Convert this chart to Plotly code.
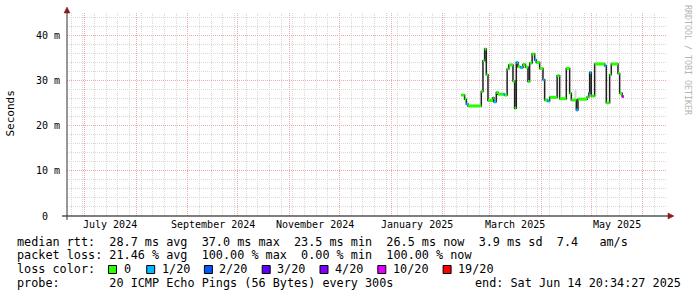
import plotly.graph_objects as go

# ---------------- data ----------------
x_start = "2024-06-20 10:00"
x_end = "2025-06-15 10:00"

step_dates = [
    "2025-02-12 00:00", "2025-02-14 00:00", "2025-02-15 00:00", "2025-02-16 00:00",
    "2025-02-24 00:00", "2025-02-25 00:00", "2025-02-26 00:00", "2025-02-27 00:00",
    "2025-02-28 00:00", "2025-03-03 00:00", "2025-03-03 12:00", "2025-03-05 00:00",
    "2025-03-06 00:00", "2025-03-09 00:00", "2025-03-10 00:00", "2025-03-11 12:00",
    "2025-03-12 12:00", "2025-03-15 00:00", "2025-03-16 00:00", "2025-03-17 00:00",
    "2025-03-18 00:00", "2025-03-19 12:00", "2025-03-21 00:00", "2025-03-22 12:00",
    "2025-03-24 00:00", "2025-03-25 00:00", "2025-03-26 12:00", "2025-03-28 00:00",
    "2025-03-29 00:00", "2025-03-31 00:00", "2025-04-02 00:00", "2025-04-03 00:00",
    "2025-04-04 12:00", "2025-04-06 00:00", "2025-04-10 12:00", "2025-04-12 00:00",
    "2025-04-16 00:00", "2025-04-18 00:00", "2025-04-19 00:00", "2025-04-22 00:00",
    "2025-04-23 00:00", "2025-04-28 12:00", "2025-04-29 12:00", "2025-04-30 00:00",
    "2025-05-01 00:00", "2025-05-03 00:00", "2025-05-09 00:00", "2025-05-10 00:00",
    "2025-05-12 00:00", "2025-05-13 00:00", "2025-05-17 00:00", "2025-05-18 00:00",
    "2025-05-19 12:00", "2025-05-20 12:00",
]
median_ms = [
    26.8, 25.9, 24.8, 24.4, 27.6, 34.4, 37.0, 31.3, 25.6, 26.2, 25.3, 27.4,
    27.0, 27.0, 26.8, 32.6, 33.5, 29.9, 23.9, 34.0, 33.1, 32.9, 33.6, 33.0,
    29.8, 33.9, 35.9, 34.6, 34.0, 32.7, 30.2, 25.7, 25.5, 26.3, 31.1, 26.0,
    32.7, 27.2, 25.7, 23.5, 25.9, 26.4, 27.2, 31.8, 26.6, 33.7, 33.3, 25.1,
    31.3, 33.7, 31.6, 27.2, 26.5,
]
loss_of_step = [
    "0", "0", "1/20", "0", "0", "0", "0", "0", "0", "0", "1/20", "0",
    "0", "1/20", "0", "0", "0", "0", "0", "1/20", "0", "1/20", "0", "0",
    "0", "0", "0", "1/20", "0", "0", "1/20", "0", "1/20", "0", "0", "0",
    "0", "0", "0", "1/20", "0", "0", "1/20", "1/20", "0", "0", "1/20", "0",
    "0", "0", "0", "0", "10/20",
]
smoke_dates = ["2025-04-21 12:00"]
smoke_lo = [25.7]
smoke_hi = [27.9]

loss_labels = ["0", "1/20", "2/20", "3/20", "4/20", "10/20", "19/20"]
loss_colors = ["#26ff00", "#00b8ff", "#0059ff", "#5e00ff", "#7e00ff", "#dd00ff", "#ff0000"]

month_grid = ["2024-07-01", "2024-08-01", "2024-09-01", "2024-10-01", "2024-11-01",
              "2024-12-01", "2025-01-01", "2025-02-01", "2025-03-01", "2025-04-01",
              "2025-05-01", "2025-06-01"]
month_label_dates = ["2024-07-16 12:00", "2024-09-16 00:00", "2024-11-16 00:00",
                     "2025-01-16 12:00", "2025-03-16 12:00", "2025-05-16 12:00"]
month_label_text = ["July 2024", "September 2024", "November 2024",
                    "January 2025", "March 2025", "May 2025"]
y_tick_vals = [0, 10, 20, 30, 40]
y_tick_text = ["0\u00a0\u00a0", "10 m", "20 m", "30 m", "40 m"]

legend_rtt = "median rtt:  28.7 ms avg  37.0 ms max  23.5 ms min  26.5 ms now  3.9 ms sd  7.4   am/s"
legend_loss = "packet loss: 21.46 % avg  100.00 % max  0.00 % min  100.00 % now"
legend_probe = "probe:       20 ICMP Echo Pings (56 Bytes) every 300s"
legend_end = "end: Sat Jun 14 20:34:27 2025"

# ---------------- layout geometry ----------------
W, H = 697, 297
L, R, T, B = 67, 30, 13, 81
PW = W - L - R
PH = H - T - B
MONO = "DejaVu Sans Mono"


def px2x(px):
    return (px - L) / PW


def py2y(py):
    return (T + PH - py) / PH


def nb(s):
    return s.replace(" ", "\u00a0")


fig = go.Figure()

# smoke
for d, lo, hi in zip(smoke_dates, smoke_lo, smoke_hi):
    fig.add_trace(go.Scatter(x=[d, d], y=[lo, hi], mode="lines",
                             line=dict(color="#d4d4d4", width=2),
                             hoverinfo="skip", showlegend=False))

# thin dark median step line
fig.add_trace(go.Scatter(x=step_dates, y=median_ms + [median_ms[-1]], mode="lines",
                         line=dict(color="#202020", width=1.5, shape="hv"),
                         hoverinfo="skip", showlegend=False))

# coloured horizontal pieces by loss
for lab, col in zip(loss_labels, loss_colors):
    xs, ys = [], []
    for i, v in enumerate(median_ms):
        if loss_of_step[i] == lab:
            xs += [step_dates[i], step_dates[i + 1], None]
            ys += [v, v, None]
    if xs:
        fig.add_trace(go.Scatter(x=xs, y=ys, mode="lines",
                                 line=dict(color=col, width=3),
                                 hoverinfo="skip", showlegend=False))

MAJ = "#f0a8a8"
MIN = "#d8d8d8"
DASH = "1px,1px"

fig.update_layout(
    width=W, height=H,
    margin=dict(l=L, r=R, t=T, b=B, pad=0),
    paper_bgcolor="white", plot_bgcolor="white",
    showlegend=False,
    xaxis=dict(
        type="date", range=[x_start, x_end],
        tickmode="array", tickvals=month_grid, showticklabels=False, ticks="",
        showgrid=True, gridcolor=MAJ, griddash=DASH, gridwidth=1,
        minor=dict(tickmode="linear", tick0="2024-06-23", dtick=7 * 86400000,
                   showgrid=True, gridcolor=MIN, griddash=DASH, gridwidth=1, ticks=""),
        zeroline=False, showline=False, fixedrange=True,
    ),
    yaxis=dict(
        range=[0, 45], tickmode="array", tickvals=y_tick_vals,
        showticklabels=False, ticks="",
        showgrid=True, gridcolor=MAJ, griddash=DASH, gridwidth=1,
        minor=dict(tickmode="linear", tick0=0, dtick=2,
                   showgrid=True, gridcolor=MIN, griddash=DASH, gridwidth=1, ticks=""),
        zeroline=False, showline=False, fixedrange=True,
    ),
)

shapes = []
ARROW = "#8b1a1a"
# x axis line + arrow
shapes.append(dict(type="line", xref="paper", yref="paper",
                   x0=px2x(62), x1=px2x(669), y0=py2y(216), y1=py2y(216),
                   line=dict(color="black", width=1), layer="above"))
shapes.append(dict(type="path", xref="paper", yref="paper",
                   path=f"M {px2x(668)} {py2y(213)} L {px2x(674)} {py2y(216)} L {px2x(668)} {py2y(219)} Z",
                   fillcolor=ARROW, line=dict(color=ARROW, width=0.5), layer="above"))
# y axis line + arrow
shapes.append(dict(type="line", xref="paper", yref="paper",
                   x0=0, x1=0, y0=py2y(220), y1=py2y(12),
                   line=dict(color="#333333", width=1), layer="above"))
shapes.append(dict(type="path", xref="paper", yref="paper",
                   path=f"M {px2x(64)} {py2y(13)} L {px2x(67)} {py2y(7)} L {px2x(70)} {py2y(13)} Z",
                   fillcolor=ARROW, line=dict(color=ARROW, width=0.5), layer="above"))

annotations = []
# x labels
for d, t in zip(month_label_dates, month_label_text):
    annotations.append(dict(x=d, xref="x", y=py2y(224.5), yref="paper",
                            text=t, showarrow=False, xanchor="center", yanchor="middle",
                            font=dict(family=MONO, size=10, color="#000000"), borderpad=0))
# y labels
for v, t in zip(y_tick_vals, y_tick_text):
    annotations.append(dict(x=px2x(60.5), xref="paper", y=v, yref="y",
                            text=t, showarrow=False, xanchor="right", yanchor="middle",
                            font=dict(family=MONO, size=10, color="#000000"), borderpad=0))
# axis title
annotations.append(dict(x=px2x(10), xref="paper", y=py2y(113.5), yref="paper",
                        text="Seconds", textangle=-90, showarrow=False,
                        xanchor="center", yanchor="middle",
                        font=dict(family=MONO, size=11, color="#000000"), borderpad=0))
# watermark
annotations.append(dict(x=px2x(688), xref="paper", y=py2y(60), yref="paper",
                        text="RRDTOOL / TOBI OETIKER", textangle=90, showarrow=False,
                        xanchor="center", yanchor="middle",
                        font=dict(family=MONO, size=8.3, color="#b4b4b4"), borderpad=0))

LF = dict(family=MONO, size=11.8, color="#000000")
for txt, py in [(legend_rtt, 241.5), (legend_loss, 255.5), (legend_probe, 283)]:
    annotations.append(dict(x=px2x(15.5), xref="paper", y=py2y(py), yref="paper",
                            text=nb(txt), showarrow=False, xanchor="left", yanchor="middle",
                            font=LF, borderpad=0))
annotations.append(dict(x=px2x(682), xref="paper", y=py2y(283), yref="paper",
                        text=nb(legend_end), showarrow=False, xanchor="right", yanchor="middle",
                        font=LF, borderpad=0))
annotations.append(dict(x=px2x(15.5), xref="paper", y=py2y(269.3), yref="paper",
                        text=nb("loss color:"), showarrow=False, xanchor="left", yanchor="middle",
                        font=LF, borderpad=0))
box_left_px = [108.5, 146.7, 204.4, 262.2, 320.0, 377.8, 443.1]
for bx, lab, col in zip(box_left_px, loss_labels, loss_colors):
    shapes.append(dict(type="rect", xref="paper", yref="paper",
                       x0=px2x(bx), x1=px2x(bx + 8), y0=py2y(273.5), y1=py2y(265.5),
                       fillcolor=col, line=dict(color="black", width=1), layer="above"))
    annotations.append(dict(x=px2x(bx + 14), xref="paper", y=py2y(269.3), yref="paper",
                            text=lab, showarrow=False, xanchor="left", yanchor="middle",
                            font=LF, borderpad=0))

fig.update_layout(shapes=shapes, annotations=annotations)
fig.write_html("out.html")
